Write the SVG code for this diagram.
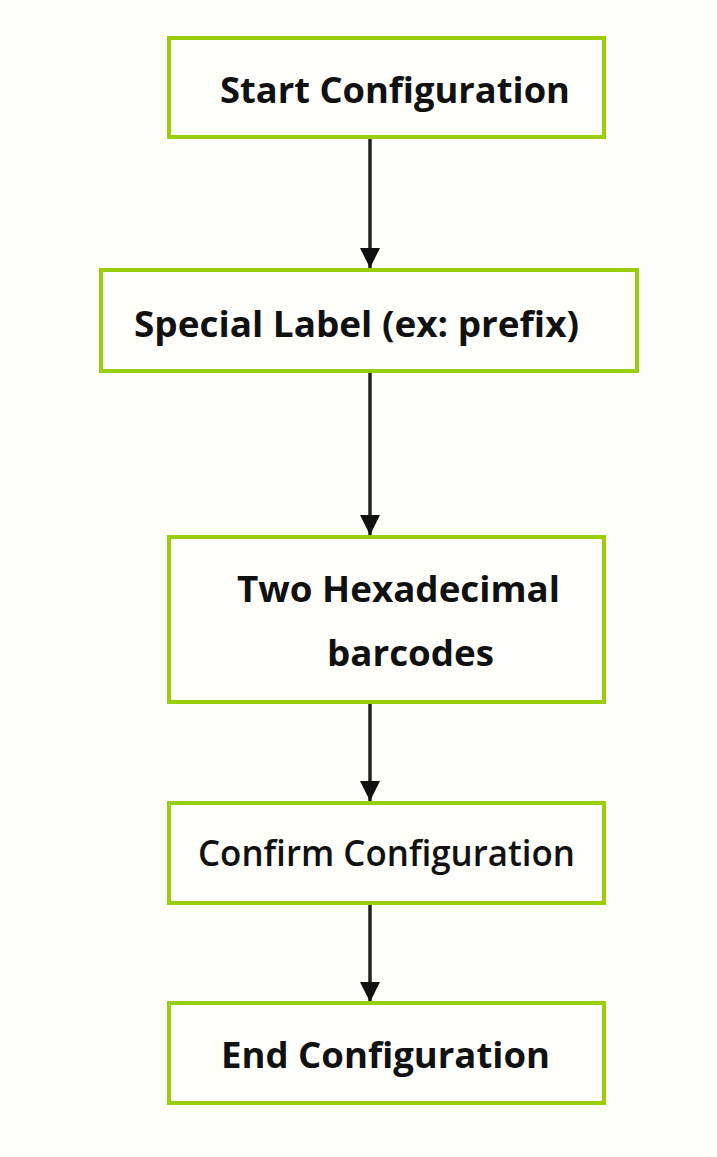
<svg xmlns="http://www.w3.org/2000/svg" width="717" height="1157" viewBox="0 0 717 1157">
<defs>
<style>
.box{fill:#fefefb;stroke:#9acd0a;stroke-width:4}
.t{font-family:"Open Sans","Liberation Sans",sans-serif;font-weight:bold;font-size:36px;fill:#111}
.n{font-weight:600}
.c{stroke:#222;stroke-width:3.5;fill:none;marker-end:url(#ah)}
</style>
<marker id="ah" markerUnits="userSpaceOnUse" markerWidth="22" markerHeight="22" refX="20" refY="11" orient="auto" viewBox="0 0 22 22">
<path d="M0,1 L20,11 L0,21 Z" fill="#111"/>
</marker>
</defs>
<rect width="717" height="1157" fill="#fdfdf9"/>
<g id="connectors">
<line class="c" x1="370" y1="137" x2="370" y2="268"/>
<line class="c" x1="370" y1="371" x2="370" y2="535"/>
<line class="c" x1="370" y1="702" x2="370" y2="801"/>
<line class="c" x1="370" y1="903" x2="370" y2="1002"/>
</g>
<g id="start">
<rect class="box" x="169" y="38" width="435" height="99"/>
<text class="t" x="220" y="103" textLength="350" lengthAdjust="spacingAndGlyphs">Start Configuration</text>
</g>
<g id="special">
<rect class="box" x="101" y="270" width="536" height="101"/>
<text class="t" x="134" y="337" textLength="445" lengthAdjust="spacingAndGlyphs">Special Label (ex: prefix)</text>
</g>
<g id="hex">
<rect class="box" x="169" y="537" width="435" height="165"/>
<text class="t" x="237" y="602" textLength="323" lengthAdjust="spacingAndGlyphs">Two Hexadecimal</text>
<text class="t" x="327" y="666" textLength="167" lengthAdjust="spacingAndGlyphs">barcodes</text>
</g>
<g id="confirm">
<rect class="box" x="169" y="803" width="435" height="100"/>
<text class="t n" x="198" y="866" textLength="377" lengthAdjust="spacingAndGlyphs">Confirm Configuration</text>
</g>
<g id="end">
<rect class="box" x="169" y="1003" width="435" height="100"/>
<text class="t" x="221" y="1068" textLength="329" lengthAdjust="spacingAndGlyphs">End Configuration</text>
</g>
</svg>
